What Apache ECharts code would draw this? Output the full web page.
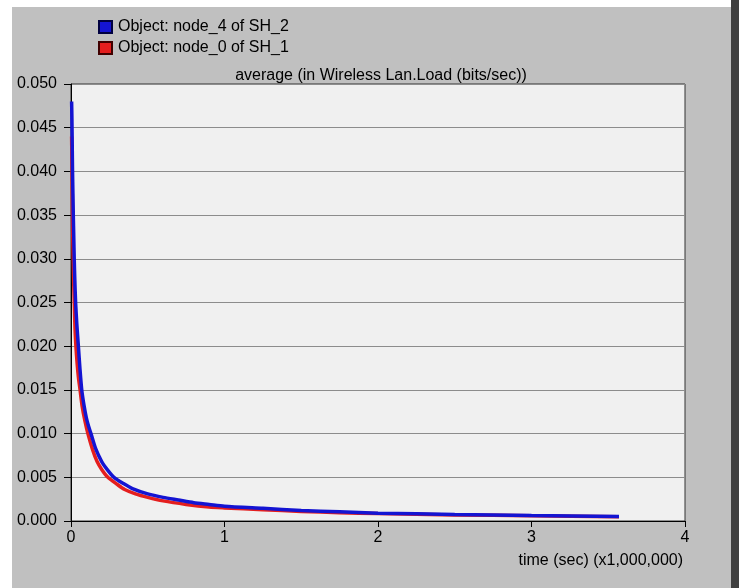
<!DOCTYPE html>
<html>
<head>
<meta charset="utf-8">
<script src="https://cdn.jsdelivr.net/npm/echarts@6/dist/echarts.min.js"></script>
<style>
  html, body { margin: 0; padding: 0; background: #c0c0c0; }
  #chart { width: 739px; height: 588px; }
</style>
</head>
<body>
<div id="chart"></div>
<script>
// time in units of 1,000,000 sec
const node4Points = [
  [0.004, 0.048], [0.006, 0.046], [0.008, 0.043], [0.01, 0.040], [0.0125, 0.0375],
  [0.015, 0.035], [0.018, 0.0325], [0.021, 0.030], [0.025, 0.0275], [0.03, 0.025],
  [0.038, 0.0225], [0.048, 0.020], [0.058, 0.0175], [0.07, 0.015], [0.085, 0.0132],
  [0.1, 0.0118], [0.115, 0.0108], [0.13, 0.010], [0.16, 0.0083], [0.2, 0.0068],
  [0.24, 0.0058], [0.28, 0.005], [0.34, 0.0043], [0.4, 0.0037], [0.5, 0.0031],
  [0.6, 0.0027], [0.7, 0.0024], [0.8, 0.0021], [0.9, 0.0019], [1.0, 0.0017],
  [1.25, 0.00145], [1.5, 0.0012], [1.75, 0.00105], [2.0, 0.0009], [2.5, 0.00075],
  [3.0, 0.00062], [3.57, 0.00052]
]
const node0Points = [
  [0.004, 0.044], [0.006, 0.041], [0.008, 0.038], [0.01, 0.035], [0.012, 0.032],
  [0.015, 0.0295], [0.018, 0.027], [0.022, 0.0245], [0.026, 0.022], [0.032, 0.020],
  [0.04, 0.018], [0.048, 0.0165], [0.059, 0.015], [0.072, 0.0132], [0.09, 0.0115],
  [0.11, 0.010], [0.14, 0.0082], [0.17, 0.0068], [0.2, 0.0059], [0.24, 0.005],
  [0.3, 0.0042], [0.35, 0.0036], [0.42, 0.0031], [0.5, 0.0027], [0.6, 0.0023],
  [0.75, 0.0019], [0.9, 0.0016], [1.0, 0.0015], [1.25, 0.0013], [1.5, 0.0011],
  [1.75, 0.00095], [2.0, 0.00085], [2.5, 0.0007], [3.0, 0.0006], [3.57, 0.0005]
]
const seriesNames = ['Object: node_4 of SH_2', 'Object: node_0 of SH_1']
const chartTitle = 'average (in Wireless Lan.Load (bits/sec))'
const xName = 'time (sec) (x1,000,000)'

const font = 'Liberation Sans, Arial, sans-serif'
const chart = echarts.init(document.getElementById('chart'))
chart.setOption({
  backgroundColor: '#c0c0c0',
  animation: false,
  textStyle: { fontFamily: font },
  title: {
    text: chartTitle,
    left: 376,
    top: 63,
    textAlign: 'center',
    textStyle: { fontSize: 16, fontWeight: 'normal', color: '#000', fontFamily: font }
  },
  legend: {
    orient: 'vertical',
    left: 93,
    top: 14,
    itemWidth: 13,
    itemHeight: 12,
    itemGap: 5,
    icon: 'rect',
    data: seriesNames,
    textStyle: { fontSize: 16, color: '#000', fontFamily: font, padding: [0, 0, 0, 1] }
  },
  grid: {
    left: 71, top: 84, right: 54, bottom: 67,
    show: true,
    backgroundColor: '#f0f0f0',
    borderColor: '#333',
    borderWidth: 1
  },
  xAxis: {
    type: 'value',
    min: 0, max: 4, interval: 1,
    axisLine: { show: true, lineStyle: { color: '#000', width: 1 } },
    axisTick: { show: true, length: 6, lineStyle: { color: '#000' } },
    axisLabel: { fontSize: 16, color: '#000', margin: 9 },
    splitLine: { show: false }
  },
  yAxis: {
    type: 'value',
    min: 0, max: 0.05, interval: 0.005,
    axisLine: { show: true, lineStyle: { color: '#000', width: 1 } },
    axisTick: { show: true, length: 7, lineStyle: { color: '#000' } },
    axisLabel: { fontSize: 16, color: '#000', margin: 14, formatter: v => v.toFixed(3) },
    splitLine: { show: true, lineStyle: { color: '#8c8c8c', width: 1 } }
  },
  graphic: [
    { type: 'rect', left: 0, top: 0, shape: { width: 739, height: 7 }, style: { fill: '#ffffff' }, silent: true },
    { type: 'rect', left: 0, top: 0, shape: { width: 12, height: 588 }, style: { fill: '#ffffff' }, silent: true },
    { type: 'rect', left: 731, top: 0, shape: { width: 8, height: 588 }, style: { fill: '#404040' }, silent: true },
    {
      type: 'text', right: 56, top: 553,
      style: { text: xName, fontSize: 16, fill: '#000', fontFamily: font }
    }
  ],
  series: [
    {
      name: seriesNames[1],
      type: 'line',
      data: node0Points,
      smooth: 0.25,
      showSymbol: false,
      color: '#e41e1e',
      lineStyle: { width: 3.5, color: '#e41e1e' },
      itemStyle: { color: '#e41e1e', borderColor: '#400000', borderWidth: 1 },
      z: 2
    },
    {
      name: seriesNames[0],
      type: 'line',
      data: node4Points,
      smooth: 0.25,
      showSymbol: false,
      color: '#1414d2',
      lineStyle: { width: 3.5, color: '#1414d2' },
      itemStyle: { color: '#1414d2', borderColor: '#000040', borderWidth: 1 },
      z: 3
    }
  ]
})
</script>
</body>
</html>
